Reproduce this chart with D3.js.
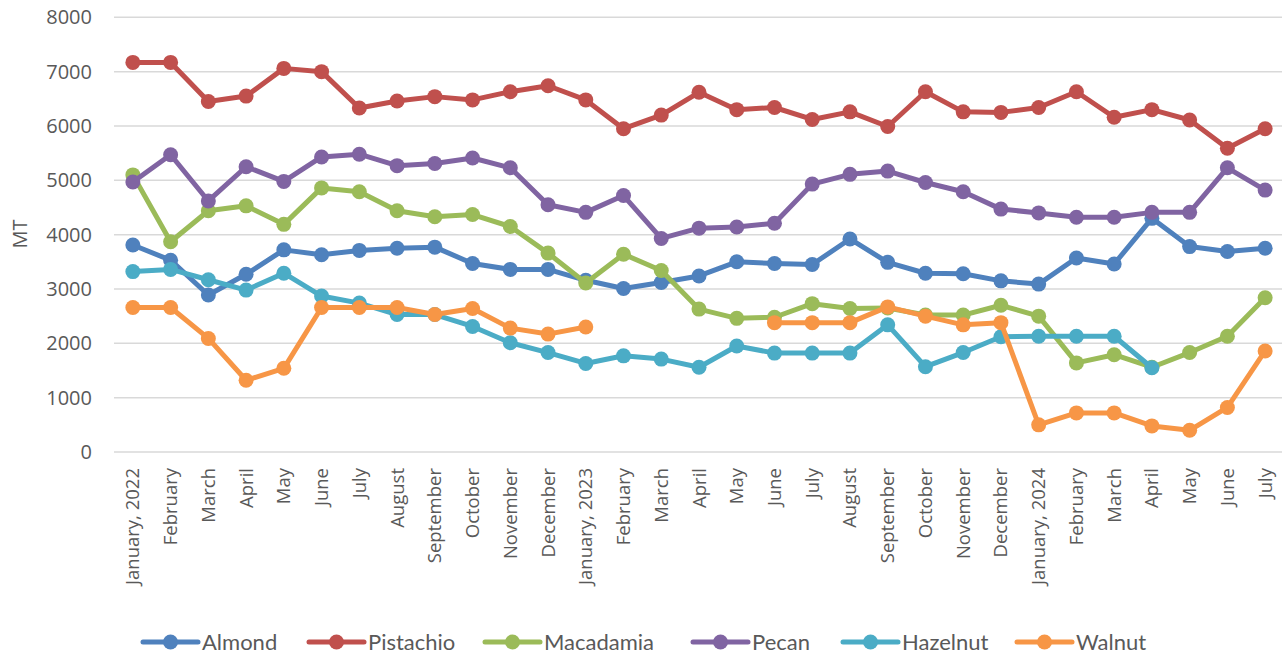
<!DOCTYPE html>
<html>
<head>
<meta charset="utf-8">
<script src="https://cdn.jsdelivr.net/npm/d3@7"></script>
<style>
  body { margin: 0; background: #fff; }
  svg { display: block; }
</style>
</head>
<body>
<svg></svg>
<script>
// months Jan 2022 .. Jul 2024
const months = ["January, 2022","February","March","April","May","June","July","August",
  "September","October","November","December","January, 2023","February","March","April",
  "May","June","July","August","September","October","November","December","January, 2024",
  "February","March","April","May","June","July"];

const almond = [3810,3530,2890,3270,3720,3630,3710,3750,3770,3470,3360,3360,3160,3010,3120,3240,
  3500,3470,3450,3920,3490,3290,3280,3150,3090,3570,3460,4300,3780,3690,3750];
const pistachio = [7170,7170,6450,6550,7060,7000,6330,6460,6540,6480,6630,6740,6480,5950,6200,6620,
  6300,6340,6120,6260,5990,6630,6260,6250,6340,6630,6160,6300,6110,5590,5950];
const macadamia = [5100,3870,4440,4530,4190,4860,4790,4440,4330,4370,4150,3660,3110,3640,3340,2630,
  2460,2480,2730,2640,2650,2520,2520,2700,2500,1640,1790,1560,1830,2130,2840];
const pecan = [4970,5470,4620,5250,4980,5430,5480,5270,5310,5410,5230,4550,4410,4720,3930,4120,
  4140,4210,4930,5110,5170,4960,4790,4470,4400,4320,4320,4410,4410,5230,4820];
const hazelnut = [3320,3360,3170,2980,3290,2870,2740,2530,2530,2310,2010,1830,1630,1770,1710,1560,
  1950,1820,1820,1820,2340,1570,1830,2120,2130,2130,2130,1550,null,null,null];
const walnut = [2660,2660,2090,1320,1540,2660,2660,2660,2530,2640,2280,2170,2300,null,null,null,
  null,2380,2380,2380,2670,2500,2340,2380,500,720,720,480,400,820,1860];

const seriesNames = ["Almond","Pistachio","Macadamia","Pecan","Hazelnut","Walnut"];
const seriesValues = [almond, pistachio, macadamia, pecan, hazelnut, walnut];
const colors = ["#4F81BD","#C0504D","#9BBB59","#8064A2","#4BACC6","#F79646"];
const yTicks = [0,1000,2000,3000,4000,5000,6000,7000,8000];

const W = 1282, H = 655;
const svg = d3.select("svg").attr("width", W).attr("height", H);

const x = d3.scalePoint().domain(months.map((m, i) => i)).range([114, 1284]).padding(0.5);
const y = d3.scaleLinear().domain([0, 8000]).range([452, 17.3]);

// grid
svg.append("g")
  .selectAll("line")
  .data(yTicks)
  .enter().append("line")
  .attr("x1", 114).attr("x2", W)
  .attr("y1", d => y(d)).attr("y2", d => y(d))
  .attr("stroke", "#D9D9D9").attr("stroke-width", 1.5);

// y axis labels
svg.append("g")
  .selectAll("text")
  .data(yTicks)
  .enter().append("text")
  .text(d => d)
  .attr("x", 92)
  .attr("y", d => y(d) + 7)
  .attr("text-anchor", "end")
  .style("font-family", "Open Sans")
  .style("font-size", "20px")
  .attr("fill", "#595959");

svg.append("text")
  .text("MT")
  .attr("transform", "translate(27,234) rotate(-90)")
  .attr("text-anchor", "middle")
  .style("font-family", "Open Sans")
  .style("font-size", "20px")
  .attr("fill", "#595959");

// x labels
svg.append("g")
  .selectAll("text")
  .data(months)
  .enter().append("text")
  .text(d => d)
  .attr("transform", (d, i) => `translate(${x(i) + 6.5},468) rotate(-90)`)
  .attr("text-anchor", "end")
  .style("font-family", "Open Sans")
  .style("font-size", "18.5px")
  .attr("fill", "#595959");

// series
const line = d3.line()
  .defined(d => d != null)
  .x((d, i) => x(i))
  .y(d => y(d));

seriesValues.forEach((vals, s) => {
  const g = svg.append("g");
  g.append("path")
    .datum(vals)
    .attr("d", line)
    .attr("fill", "none")
    .attr("stroke", colors[s])
    .attr("stroke-width", 5)
    .attr("stroke-linejoin", "round");
  g.selectAll("circle")
    .data(vals.map((v, i) => ({v, i})).filter(d => d.v != null))
    .enter().append("circle")
    .attr("cx", d => x(d.i))
    .attr("cy", d => y(d.v))
    .attr("r", 7.5)
    .attr("fill", colors[s]);
});

// legend
const legendX = [143, 309, 485, 693, 843, 1017];
const lg = svg.append("g")
  .selectAll("g")
  .data(seriesNames)
  .enter().append("g")
  .attr("transform", (d, i) => `translate(${legendX[i]},642)`);
lg.append("line")
  .attr("x1", 0).attr("x2", 55)
  .attr("stroke", (d, i) => colors[i]).attr("stroke-width", 5)
  .attr("stroke-linecap", "round");
lg.append("circle")
  .attr("cx", 27.5).attr("r", 7.5)
  .attr("fill", (d, i) => colors[i]);
lg.append("text")
  .text(d => d)
  .attr("x", 59).attr("y", 8)
  .style("font-family", "Lato")
  .style("font-size", "22px")
  .attr("fill", "#595959");
</script>
</body>
</html>
